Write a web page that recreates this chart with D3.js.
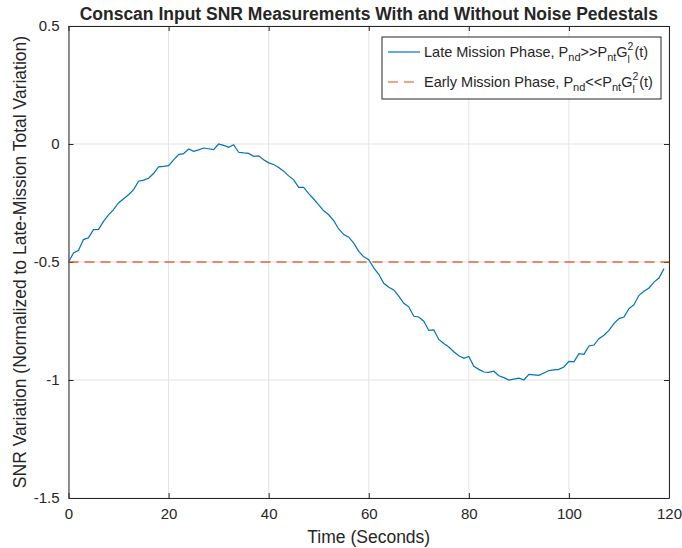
<!DOCTYPE html>
<html>
<head>
<meta charset="utf-8">
<script src="https://cdn.jsdelivr.net/npm/d3@7"></script>
<style>
body { margin: 0; background: #fff; }
text { font-family: "Liberation Sans", Arial, sans-serif; fill: #262626; }
</style>
</head>
<body>
<div id="chart"></div>
<script>
// time in seconds
var timeSec = d3.range(0, 120)
// late mission phase SNR variation
var lateSNR = [
-0.500,-0.462,-0.450,-0.405,-0.397,-0.363,-0.362,-0.328,-0.300,-0.278,
-0.250,-0.232,-0.215,-0.193,-0.158,-0.153,-0.145,-0.125,-0.097,-0.095,
-0.092,-0.067,-0.045,-0.041,-0.021,-0.031,-0.025,-0.017,-0.020,-0.024,
 0.000,-0.006,-0.014,-0.003,-0.035,-0.038,-0.040,-0.052,-0.050,-0.067,
-0.080,-0.087,-0.100,-0.115,-0.135,-0.152,-0.184,-0.184,-0.210,-0.233,
-0.258,-0.283,-0.300,-0.325,-0.360,-0.384,-0.395,-0.420,-0.455,-0.478,
-0.490,-0.525,-0.552,-0.590,-0.607,-0.618,-0.645,-0.675,-0.690,-0.730,
-0.733,-0.751,-0.790,-0.788,-0.828,-0.845,-0.860,-0.880,-0.897,-0.908,
-0.900,-0.942,-0.955,-0.966,-0.968,-0.963,-0.982,-0.990,-1.000,-0.996,
-0.992,-1.000,-0.976,-0.978,-0.980,-0.970,-0.960,-0.957,-0.955,-0.945,
-0.921,-0.923,-0.888,-0.891,-0.856,-0.852,-0.825,-0.810,-0.790,-0.761,
-0.740,-0.733,-0.698,-0.681,-0.641,-0.624,-0.610,-0.585,-0.568,-0.528
]
// early mission phase is flat
var earlyT = [0, 120]
var earlySNR = [-0.5, -0.5]
var xTicks = [0, 20, 40, 60, 80, 100, 120]
var yTicks = [0.5, 0, -0.5, -1, -1.5]

var W = 682, H = 548
var margin = {top: 26, right: 13, bottom: 50, left: 68.5}
var width = W - margin.left - margin.right,
    height = H - margin.top - margin.bottom

var svg = d3.select("#chart").append("svg")
    .attr("width", W).attr("height", H)

var g = svg.append("g")
    .attr("transform", "translate(" + margin.left + "," + margin.top + ")")

var x = d3.scaleLinear().domain([0, 120]).range([0, width])
var y = d3.scaleLinear().domain([-1.5, 0.5]).range([height, 0])

// grid
g.selectAll(".gx").data(xTicks).enter().append("line")
    .attr("x1", d => x(d)).attr("x2", d => x(d))
    .attr("y1", 0).attr("y2", height)
    .attr("stroke", "#e3e3e3").attr("stroke-width", 1)
g.selectAll(".gy").data(yTicks).enter().append("line")
    .attr("x1", 0).attr("x2", width)
    .attr("y1", d => y(d)).attr("y2", d => y(d))
    .attr("stroke", "#e3e3e3").attr("stroke-width", 1)

// axes (ticks inside, like matlab)
function styleAxis(sel) {
    sel.select(".domain").attr("stroke", "#262626")
    sel.selectAll(".tick line").attr("stroke", "#262626")
    sel.selectAll("text").style("font-size", "15px").attr("fill", "#262626")
        .style("font-family", "'Liberation Sans', Arial, sans-serif")
}
g.append("g").attr("transform", "translate(0," + height + ")")
    .call(d3.axisBottom(x).tickValues(xTicks).tickSizeInner(-5).tickSizeOuter(0).tickPadding(10).tickFormat(d3.format("d")))
    .call(styleAxis)
g.append("g")
    .call(d3.axisTop(x).tickValues(xTicks).tickSizeInner(-5).tickSizeOuter(0).tickFormat(""))
    .call(styleAxis)
g.append("g")
    .call(d3.axisLeft(y).tickValues(yTicks).tickSizeInner(-5).tickSizeOuter(0).tickPadding(9).tickFormat(d => d === 0 ? "0" : String(d)))
    .call(styleAxis)
g.append("g").attr("transform", "translate(" + width + ",0)")
    .call(d3.axisRight(y).tickValues(yTicks).tickSizeInner(-5).tickSizeOuter(0).tickFormat(""))
    .call(styleAxis)

// lines
var lateLine = d3.line().x((d, i) => x(timeSec[i])).y(d => y(d))
g.append("path").datum(lateSNR)
    .attr("d", lateLine)
    .attr("fill", "none").attr("stroke", "#0072BD").attr("stroke-width", 1.2)

var earlyLine = d3.line().x((d, i) => x(earlyT[i])).y(d => y(d))
g.append("path").datum(earlySNR)
    .attr("d", earlyLine)
    .attr("fill", "none").attr("stroke", "#D95319").attr("stroke-width", 1.5)
    .attr("stroke-dasharray", "10,6").attr("stroke-opacity", 0.85)

// title + labels
svg.append("text")
    .attr("x", margin.left + width / 2).attr("y", 20)
    .attr("text-anchor", "middle")
    .style("font-size", "17.5px").style("font-weight", "bold").attr("fill", "#000")
    .text("Conscan Input SNR Measurements With and Without Noise Pedestals")

svg.append("text")
    .attr("x", margin.left + width / 2).attr("y", 543)
    .attr("text-anchor", "middle").style("font-size", "17.5px")
    .text("Time (Seconds)")

svg.append("text")
    .attr("transform", "translate(26," + (margin.top + height / 2) + ")rotate(-90)")
    .attr("text-anchor", "middle").style("font-size", "17.5px")
    .text("SNR Variation (Normalized to Late-Mission Total Variation)")

// legend
var leg = svg.append("g").attr("transform", "translate(382,37)")
leg.append("rect").attr("width", 279).attr("height", 62)
    .attr("fill", "#fff").attr("stroke", "#262626").attr("stroke-width", 1)

var legItems = [
    {label: "Late Mission Phase, P", rel: ">>", color: "#0072BD", dash: null},
    {label: "Early Mission Phase, P", rel: "<<", color: "#D95319", dash: "10,6"}
]
legItems.forEach(function(it, i) {
    var cy = 15 + i * 30
    leg.append("line").attr("x1", 6).attr("x2", 38).attr("y1", cy).attr("y2", cy)
        .attr("stroke", it.color).attr("stroke-width", 1.2)
        .attr("stroke-dasharray", it.dash)
    var t = leg.append("text").attr("x", 42).attr("y", cy + 5).style("font-size", "14.5px")
    t.append("tspan").text(it.label)
    t.append("tspan").attr("dy", 4).style("font-size", "11px").text("nd")
    t.append("tspan").attr("dy", -4).text(it.rel + "P")
    t.append("tspan").attr("dy", 4).style("font-size", "11px").text("nt")
    t.append("tspan").attr("dy", -4).text("G")
    // superscript 2 and subscript l stacked
    var gw = t.node().getComputedTextLength()
    t.append("tspan").attr("dy", -7).style("font-size", "10.5px").text("2")
    var sup = leg.append("text").attr("x", 42 + gw).attr("y", cy + 11)
        .style("font-size", "10.5px").text("l")
    t.append("tspan").attr("dy", 7).attr("dx", 1).text("(t)")
})
</script>
</body>
</html>
